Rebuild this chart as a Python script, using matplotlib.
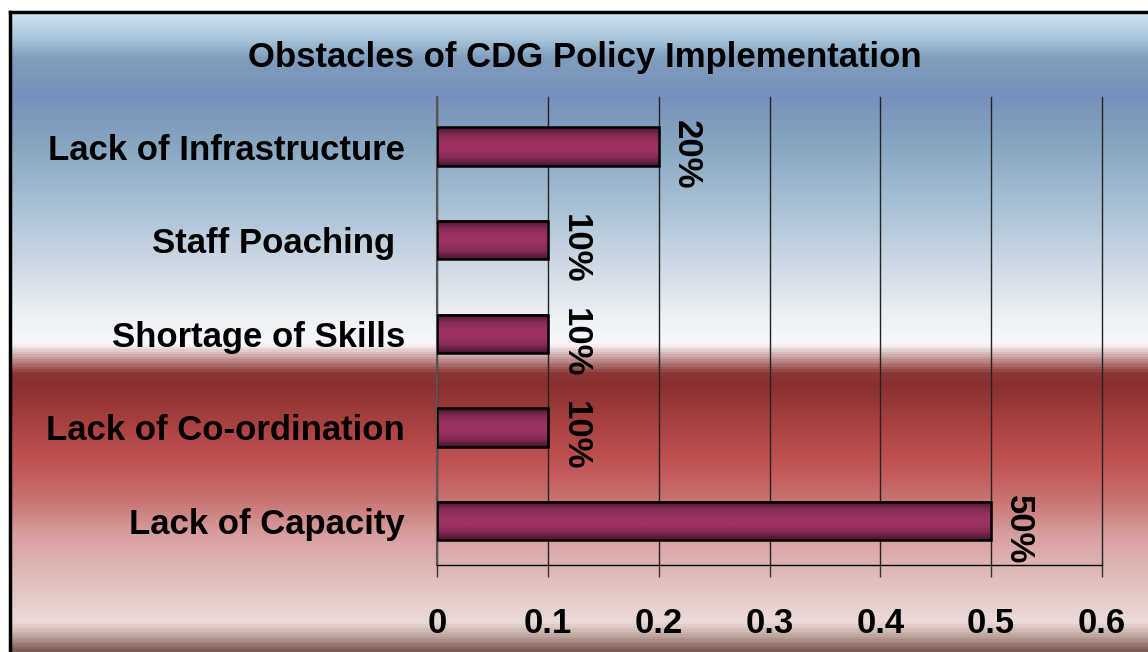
import numpy as np
import matplotlib
matplotlib.use("Agg")
import matplotlib.pyplot as plt
from matplotlib import font_manager
from matplotlib.colors import LinearSegmentedColormap

# data
categories = ["Lack of Capacity", "Lack of Co-ordination", "Shortage of Skills",
              "Staff Poaching ", "Lack of Infrastructure"]
values = [0.5, 0.1, 0.1, 0.1, 0.2]
value_labels = ["50%", "10%", "10%", "10%", "20%"]
xticks = [0, 0.1, 0.2, 0.3, 0.4, 0.5, 0.6]
xtick_labels = ["0", "0.1", "0.2", "0.3", "0.4", "0.5", "0.6"]
title = "Obstacles of CDG Policy Implementation"

# pick a narrow font if we have one
names = {f.name for f in font_manager.fontManager.ttflist}
if "Liberation Sans Narrow" in names:
    fam, fs = "Liberation Sans Narrow", 29
else:
    fam, fs = "Liberation Sans", 25
plt.rcParams["font.family"] = [fam, "DejaVu Sans"]
plt.rcParams["font.weight"] = "bold"

W, H = 1148, 652
fig = plt.figure(figsize=(W / 100, H / 100), dpi=100)
fig.patch.set_facecolor("white")

# background gradient (top to bottom)
bg_stops = [(0.00, "#d4e4f0"), (0.04, "#a8c4d8"), (0.07, "#7f9ebe"),
            (0.13, "#7890bc"), (0.20, "#86a4c0"), (0.30, "#a8c0d4"),
            (0.39, "#ccd8e4"), (0.48, "#eef2f6"), (0.52, "#f8f8fa"),
            (0.535, "#d4b4b4"), (0.565, "#8c3636"), (0.585, "#883030"),
            (0.64, "#a84040"), (0.70, "#c05050"), (0.76, "#c87070"),
            (0.82, "#d8a0a0"), (0.91, "#e4c8c4"), (0.955, "#ecdcd8"),
            (0.975, "#c4aca4"), (1.00, "#7c5c54")]
bg_cmap = LinearSegmentedColormap.from_list("bg", bg_stops)
bg = fig.add_axes([10 / W, 0, 1 - 10 / W, (H - 12) / H], zorder=-1)
bg.imshow(np.linspace(0, 1, 640).reshape(-1, 1), cmap=bg_cmap, aspect="auto",
          extent=(0, 1, 0, 1))
bg.set_xticks([])
bg.set_yticks([])
for s in ["right", "bottom"]:
    bg.spines[s].set_visible(False)
for s in ["left", "top"]:
    bg.spines[s].set_linewidth(2.5)
    bg.spines[s].set_color("black")

ax = fig.add_axes([437 / W, 87 / H, 665 / W, 468 / H])
ax.set_facecolor("none")

ypos = np.arange(len(categories))
bar_h = 0.41
bars = ax.barh(ypos, values, height=bar_h, facecolor="none",
               edgecolor="black", linewidth=1.8, zorder=3)

# cylinder-like shading inside each bar
bar_cmap = LinearSegmentedColormap.from_list(
    "bar", ["#45162f", "#852a55", "#9c3264", "#9c3264", "#852a55", "#45162f"])
grad = np.linspace(0, 1, 64).reshape(-1, 1)
for b in bars:
    x0, y0, w, h = b.get_x(), b.get_y(), b.get_width(), b.get_height()
    ax.imshow(grad, cmap=bar_cmap, aspect="auto", extent=(x0, x0 + w, y0, y0 + h),
              zorder=2, interpolation="bilinear")

for b, lab in zip(bars, value_labels):
    ax.annotate(lab, xy=(b.get_width(), b.get_y() + b.get_height()),
                xytext=(8, 5), textcoords="offset points", rotation=270,
                ha="left", va="top", fontsize=fs, fontweight="bold")

ax.set_xlim(0, 0.6)
ax.set_ylim(-0.47, len(categories) - 0.47)
ax.set_xticks(xticks)
ax.set_xticklabels(xtick_labels, fontsize=fs, fontweight="bold")
ax.set_yticks(ypos)
ax.set_yticklabels(categories, fontsize=fs, fontweight="bold")
ax.tick_params(axis="y", length=0, pad=23)
ax.tick_params(axis="x", direction="out", length=8.5, width=1, color="#333333", pad=22)

ax.grid(axis="x", color="#222222", linewidth=1, zorder=1)
ax.set_axisbelow(True)
for gl in ax.get_xgridlines():
    gl.set_clip_on(False)
for s in ["top", "right"]:
    ax.spines[s].set_visible(False)
ax.spines["left"].set_color("#555555")
ax.spines["left"].set_linewidth(1.5)
ax.spines["bottom"].set_color("black")
ax.spines["bottom"].set_linewidth(1)

fig.text(585 / W, 1 - 58 / H, title, ha="center", va="center",
         fontsize=fs, fontweight="bold")

fig.savefig("out.png", dpi=100)
